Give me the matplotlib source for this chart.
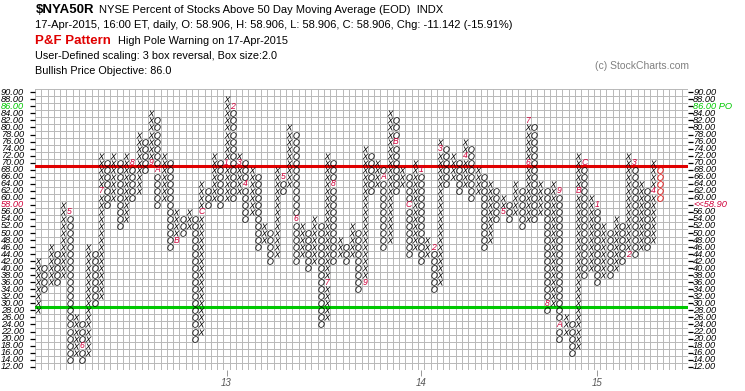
import matplotlib
matplotlib.use('Agg')
import matplotlib.pyplot as plt
from matplotlib.font_manager import FontProperties
import numpy as np

# Point & Figure columns, first column is X, then alternating O / X
col_low = [28, 34, 36, 36, 38, 14, 16, 14, 16, 30,
           32, 58, 60, 52, 54, 60, 62, 68, 70, 58,
           60, 46, 48, 50, 52, 20, 22, 58, 60, 58,
           60, 60, 62, 54, 56, 46, 48, 42, 44, 62,
           64, 42, 44, 40, 42, 24, 26, 42, 44, 42,
           44, 34, 36, 62, 64, 46, 48, 62, 64, 44,
           46, 42, 44, 34, 36, 64, 66, 62, 64, 60,
           62, 46, 48, 54, 56, 54, 56, 52, 54, 54,
           56, 28, 30, 20, 22, 16, 18, 38, 40, 36,
           38, 38, 40, 42, 44, 44, 46, 46, 48, 60]
col_high = [42, 40, 46, 44, 58, 56, 26, 24, 46, 44,
            72, 70, 72, 70, 72, 70, 78, 76, 84, 82,
            72, 70, 56, 54, 56, 54, 64, 62, 72, 70,
            88, 86, 72, 70, 68, 66, 52, 50, 68, 66,
            80, 78, 52, 50, 54, 52, 72, 70, 48, 46,
            52, 50, 74, 72, 70, 68, 84, 82, 68, 66,
            70, 68, 48, 46, 76, 74, 72, 70, 76, 74,
            68, 66, 64, 62, 60, 58, 64, 62, 82, 80,
            64, 62, 64, 62, 26, 24, 72, 70, 60, 58,
            52, 50, 54, 52, 72, 70, 64, 62, 70, 68]

# month markers: column, box, label
mark_col = [5, 7, 10, 15, 18, 19, 22, 26, 30, 31, 32, 33, 39, 41, 46, 47, 52, 55,
            57, 59, 61, 63, 64, 68, 74, 78, 78, 81, 83, 83, 86, 87, 89, 94, 95, 98]
mark_box = [56, 18, 62, 70, 70, 68, 48, 56, 70, 86, 70, 64, 66, 54, 36, 64, 36, 66,
            76, 58, 68, 46, 74, 72, 56, 70, 82, 30, 62, 24, 62, 70, 58, 44, 70, 62]
mark_txt = ['5', '6', '7', '8', '9', 'A', 'B', 'C', '1', '2', '3', '4', '5', '6', '7', '8', '9', 'A',
            'B', 'C', '1', '2', '3', '4', '5', '6', '7', '8', '9', 'A', 'B', 'C', '1', '2', '3', '4']

# boxes added on the last day (drawn red)
today_boxes = [68, 66, 64, 62, 60]

row_values = list(range(90, 10, -2))
year_col = [30, 61, 89]
year_txt = ['13', '14', '15']

W, H = 745, 391
FONT = 'Liberation Sans'
RED = '#e00000'
MARK = '#d0003a'
GREEN = '#00c800'

plt.rcParams['mathtext.fontset'] = 'custom'
plt.rcParams['mathtext.it'] = 'Liberation Sans:italic'
plt.rcParams['mathtext.rm'] = 'Liberation Sans'

fig = plt.figure(figsize=(W / 100, H / 100), dpi=100)


def fx(x):
    return x / W


def fy(y):
    return 1 - y / H


# header
fig.text(fx(36), fy(10), r'\$NYA50R', fontsize=9.5, fontweight='bold', family=FONT, va='center')
fig.text(fx(99), fy(10), 'NYSE Percent of Stocks Above 50 Day Moving Average (EOD)  INDX',
         fontsize=8.0, family=FONT, va='center')
fig.text(fx(35), fy(25), '17-Apr-2015, 16:00 ET, daily, O: 58.906, H: 58.906, L: 58.906, '
         'C: 58.906, Chg: -11.142 (-15.91%)', fontsize=8.05, family=FONT, va='center')
fig.text(fx(35), fy(41), 'P&F Pattern', fontsize=9.5, fontweight='bold', color=RED, family=FONT,
         va='center')
fig.text(fx(118), fy(41), 'High Pole Warning on 17-Apr-2015', fontsize=7.8, family=FONT, va='center')
fig.text(fx(35), fy(56), 'User-Defined scaling: 3 box reversal, Box size:2.0', fontsize=7.8,
         family=FONT, va='center')
fig.text(fx(35), fy(71), 'Bullish Price Objective: 86.0', fontsize=7.8, family=FONT, va='center')
fig.text(fx(595), fy(66), '(c) StockCharts.com', fontsize=7.5, family=FONT, color='#808080',
         va='center')

# chart area
x0, x1 = 35, 688
ytop, ybot = 88.8, 370.2
ax = fig.add_axes([fx(x0), fy(ybot), (x1 - x0) / W, (ybot - ytop) / H])
ncols = 104
ax.set_xlim(-0.5, ncols - 0.5)
ax.set_ylim(11, 91)
for s in ax.spines.values():
    s.set_visible(False)

for c in range(ncols + 1):
    ax.axvline(c - 0.5, color='#b8b8b8', lw=0.7, zorder=1)
for v in np.arange(11, 92, 2):
    ax.axhline(v, color='#b8b8b8', lw=0.7, zorder=1)

ax.axhline(69, color=RED, lw=2.2, zorder=2)
ax.axhline(29, color=GREEN, lw=2.2, zorder=2)

# collect boxes
marks = {(c, b): t for c, b, t in zip(mark_col, mark_box, mark_txt)}
last = len(col_low) - 1
xs_x, ys_x, xs_o, ys_o, xs_r, ys_r = [], [], [], [], [], []
for c, (lo, hi) in enumerate(zip(col_low, col_high)):
    for b in range(lo, hi + 1, 2):
        if (c, b) in marks:
            continue
        if c == last and b in today_boxes:
            xs_r.append(c)
            ys_r.append(b)
        elif c % 2 == 0:
            xs_x.append(c)
            ys_x.append(b)
        else:
            xs_o.append(c)
            ys_o.append(b)

ax.plot(xs_x, ys_x, linestyle='none', marker='$X$', ms=4.6, color='black', mew=0, zorder=3)
ax.plot(xs_o, ys_o, linestyle='none', marker='$O$', ms=4.6, color='black', mew=0, zorder=3)
ax.plot(xs_r, ys_r, linestyle='none', marker='$O$', ms=4.6, color=RED, mew=0, zorder=3)

for c, b, t in zip(mark_col, mark_box, mark_txt):
    ax.text(c, b, t, color=MARK, fontsize=6.2, style='italic', family=FONT,
            ha='center', va='center', zorder=3)

# y axis ticks
ax.set_yticks(row_values)
ax.tick_params(axis='y', which='both', left=True, right=True, labelleft=False,
               labelright=False, direction='out', length=3.5, width=0.9, color='black')

# y labels as blocks of lines spaced exactly one box apart
lab_size = 6.7
renderer = fig.canvas.get_renderer()
fp = FontProperties(family=FONT, style='italic', size=lab_size)
_, lp_h, lp_d = renderer.get_text_width_height_descent('lp', fp, ismath=False)
pitch = ax.transData.transform((0, 14))[1] - ax.transData.transform((0, 12))[1]
# baseline step of a multi-line text is descent + (height - descent) * linespacing
lsp = (pitch - lp_d) / (lp_h - lp_d)
ytr = ax.get_yaxis_transform()


def label_block(vals, texts, xpos, ha, color):
    ax.text(xpos, np.mean(vals), '\n'.join(texts), transform=ytr, ha=ha, va='center',
            multialignment=ha, fontsize=lab_size, style='italic', family=FONT,
            color=color, linespacing=lsp)


special_left = {86: GREEN, 58: MARK}
special_right = {86: ('86.00 PO', GREEN), 58: ('<<58.90', MARK)}
blocks = [[90, 88], [86], list(range(84, 58, -2)), [58], list(range(56, 10, -2))]
for blk in blocks:
    lc = special_left.get(blk[0], 'black') if len(blk) == 1 else 'black'
    label_block(blk, [f'{v:.2f}' for v in blk], -0.017, 'right', lc)
    if len(blk) == 1 and blk[0] in special_right:
        rt, rc = special_right[blk[0]]
        label_block(blk, [rt], 1.008, 'left', rc)
    else:
        label_block(blk, [f'{v:.2f}' for v in blk], 1.008, 'left', 'black')

# x axis: year starts
ax.set_xticks(year_col)
ax.set_xticklabels(year_txt, fontsize=7, style='italic', family=FONT, color='#555555')
ax.tick_params(axis='x', direction='out', length=4, width=0.6, color='#888888', pad=1.5)

fig.savefig('out.png', dpi=100, facecolor='white')
